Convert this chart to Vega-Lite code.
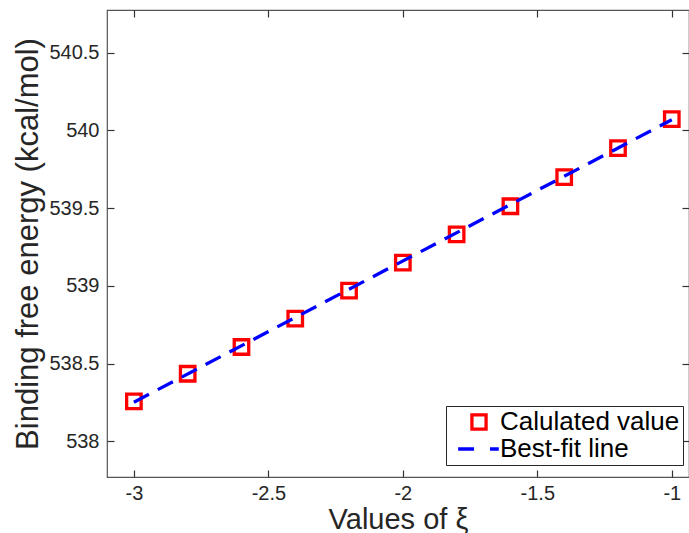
{
  "$schema": "https://vega.github.io/schema/vega-lite/v6.json",
  "autosize": {"type": "none"},
  "padding": {"left": 107, "top": 10, "right": 0, "bottom": 56},
  "width": 582,
  "height": 467,
  "background": "white",
  "config": {
    "font": "Liberation Sans",
    "view": {"stroke": "#555555", "strokeWidth": 1.2},
    "axis": {"grid": false, "domain": false, "tickColor": "#333333", "tickWidth": 1.2, "labelColor": "#262626", "titleColor": "#262626", "titleFontWeight": "normal", "labelFont": "Liberation Sans", "titleFont": "Liberation Sans"}
  },
  "data": {
    "values": [
      {"xi": -3.0, "energy": 538.257, "series": "Calulated value"},
      {"xi": -2.8, "energy": 538.435, "series": "Calulated value"},
      {"xi": -2.6, "energy": 538.607, "series": "Calulated value"},
      {"xi": -2.4, "energy": 538.789, "series": "Calulated value"},
      {"xi": -2.2, "energy": 538.969, "series": "Calulated value"},
      {"xi": -2.0, "energy": 539.149, "series": "Calulated value"},
      {"xi": -1.8, "energy": 539.331, "series": "Calulated value"},
      {"xi": -1.6, "energy": 539.512, "series": "Calulated value"},
      {"xi": -1.4, "energy": 539.699, "series": "Calulated value"},
      {"xi": -1.2, "energy": 539.886, "series": "Calulated value"},
      {"xi": -1.0, "energy": 540.072, "series": "Calulated value"},
      {"xi": -3.0, "energy": 538.252, "series": "Best-fit line"},
      {"xi": -1.0, "energy": 540.068, "series": "Best-fit line"}
    ]
  },
  "resolve": {"axis": {"x": "independent", "y": "independent"}},
  "layer": [
    {
      "transform": [{"filter": "datum.series === 'Calulated value'"}],
      "mark": {"type": "point", "filled": false, "size": 210, "strokeWidth": 3.3, "opacity": 1},
      "encoding": {
        "x": {"field": "xi", "type": "quantitative", "scale": {"domain": [-3.1, -0.936], "nice": false, "zero": false},
          "axis": {"orient": "bottom", "values": [-3, -2.5, -2, -1.5, -1], "labelExpr": "'' + datum.value", "tickSize": -7, "labelPadding": 13, "labelFontSize": 20, "title": "Values of ξ", "titleFontSize": 29, "titlePadding": 2}},
        "y": {"field": "energy", "type": "quantitative", "scale": {"domain": [537.771, 540.774], "nice": false, "zero": false},
          "axis": {"orient": "left", "values": [538, 538.5, 539, 539.5, 540, 540.5], "labelExpr": "'' + datum.value", "tickSize": -7, "labelPadding": 15, "labelFontSize": 20, "title": "Binding free energy (kcal/mol)", "titleFontSize": 31, "titlePadding": 4}},
        "color": {"field": "series", "type": "nominal", "scale": {"domain": ["Calulated value", "Best-fit line"], "range": ["#ff0000", "#0000ff"]},
          "legend": {"title": null, "orient": "none", "legendX": 339, "legendY": 396, "labelFontSize": 26, "labelLimit": 400, "labelColor": "#000000", "symbolSize": 200, "symbolStrokeWidth": 3.3, "strokeColor": "#262626", "fillColor": "white", "padding": 3, "symbolOffset": 17, "labelOffset": 8, "rowPadding": 0}},
        "shape": {"field": "series", "type": "nominal", "scale": {"domain": ["Calulated value", "Best-fit line"], "range": ["square", "M-2.95,0H-0.7M1.55,0H2.8"]},
          "legend": {"title": null, "orient": "none", "legendX": 339, "legendY": 396, "labelFontSize": 26, "labelLimit": 400, "labelColor": "#000000", "symbolSize": 200, "symbolStrokeWidth": 3.3, "strokeColor": "#262626", "fillColor": "white", "padding": 3, "symbolOffset": 17, "labelOffset": 8, "rowPadding": 0}}
      }
    },
    {
      "transform": [{"filter": "datum.series === 'Best-fit line'"}],
      "mark": {"type": "line", "strokeWidth": 3.3, "strokeDash": [17, 10], "strokeCap": "butt"},
      "encoding": {
        "x": {"field": "xi", "type": "quantitative", "scale": {"domain": [-3.1, -0.936], "nice": false, "zero": false},
          "axis": {"orient": "top", "values": [-3, -2.5, -2, -1.5, -1], "labels": false, "tickSize": -7, "title": null}},
        "y": {"field": "energy", "type": "quantitative", "scale": {"domain": [537.771, 540.774], "nice": false, "zero": false},
          "axis": {"orient": "right", "values": [538, 538.5, 539, 539.5, 540, 540.5], "labels": false, "tickSize": -7, "title": null}},
        "color": {"field": "series", "type": "nominal", "scale": {"domain": ["Calulated value", "Best-fit line"], "range": ["#ff0000", "#0000ff"]}, "legend": null}
      }
    }
  ]
}
